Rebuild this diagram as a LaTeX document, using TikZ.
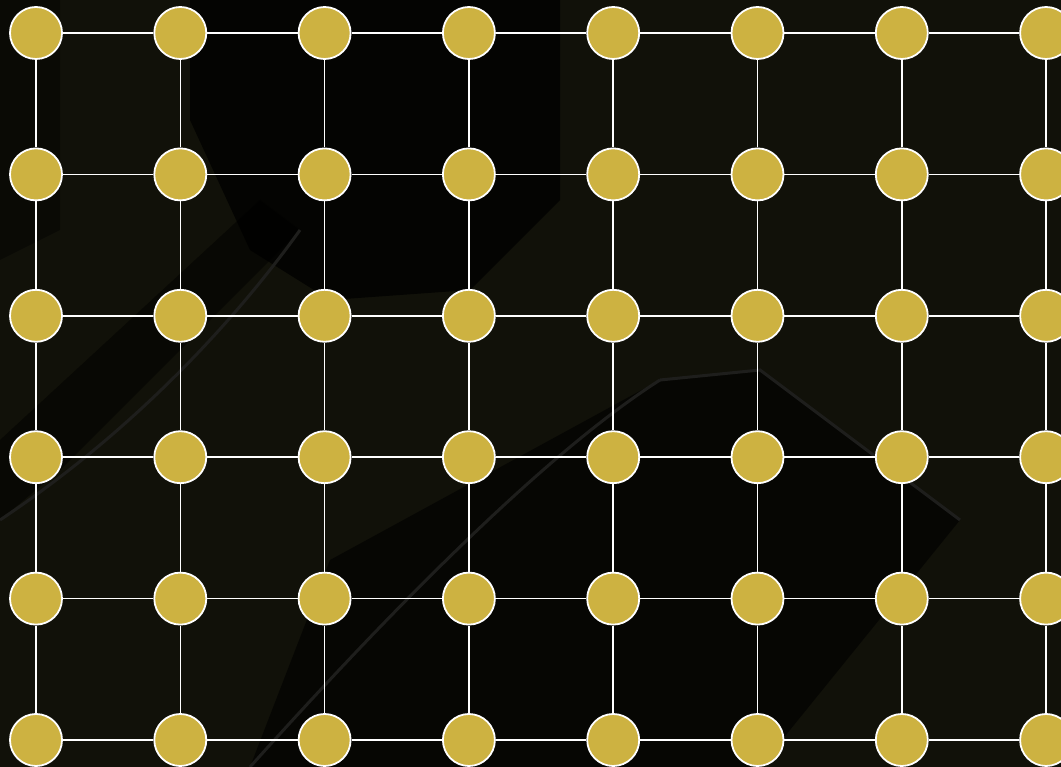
\documentclass[tikz,border=0pt]{standalone}
\usetikzlibrary{positioning}
\definecolor{bgolive}{RGB}{17,17,9}
\definecolor{dotgold}{RGB}{205,178,65}
\definecolor{swoosh}{RGB}{30,30,28}
\tikzset{
  qdot/.style={circle, fill=dotgold, draw=white, line width=1.8pt, minimum size=52pt, inner sep=0pt},
  qlink/.style={draw=white, line width=1.6pt}
}
\begin{document}
\begin{tikzpicture}[x=1pt, y=-1pt]
  % background
  \fill[bgolive] (0,0) rectangle (1061,767);
  \useasboundingbox (0,0) rectangle (1061,767);
  \fill[black, opacity=0.75] (190,0) -- (560,0) -- (560,200) -- (470,290) -- (330,300) -- (250,250) -- (190,120) -- cycle;
  \fill[black, opacity=0.5] (0,440) -- (260,200) -- (300,230) -- (60,470) -- (0,520) -- cycle;
  \fill[black, opacity=0.6] (330,560) -- (660,380) -- (760,370) -- (960,520) -- (760,767) -- (250,767) -- cycle;
  \fill[black, opacity=0.4] (0,0) -- (60,0) -- (60,230) -- (0,260) -- cycle;
  \draw[swoosh, line width=3pt] (0,520) .. controls (150,420) and (250,300) .. (300,230);
  \draw[swoosh, line width=3pt] (250,767) .. controls (400,600) and (550,450) .. (660,380);
  \draw[swoosh, line width=3pt] (660,380) -- (760,370) -- (960,520);
  % grid of dots
  \foreach \c in {0,...,7}
    \foreach \r in {0,...,5}
      \node[qdot] (n-\c-\r) at ({36+144.3*\c},{33+141.4*\r}) {};
  % links
  \foreach \c in {1,...,7}
    \foreach \r in {0,...,5} {
      \pgfmathtruncatemacro{\cp}{\c-1}
      \draw[qlink] (n-\cp-\r) -- (n-\c-\r);
    }
  \foreach \c in {0,...,7}
    \foreach \r in {1,...,5} {
      \pgfmathtruncatemacro{\rp}{\r-1}
      \draw[qlink] (n-\c-\rp) -- (n-\c-\r);
    }
\end{tikzpicture}
\end{document}
